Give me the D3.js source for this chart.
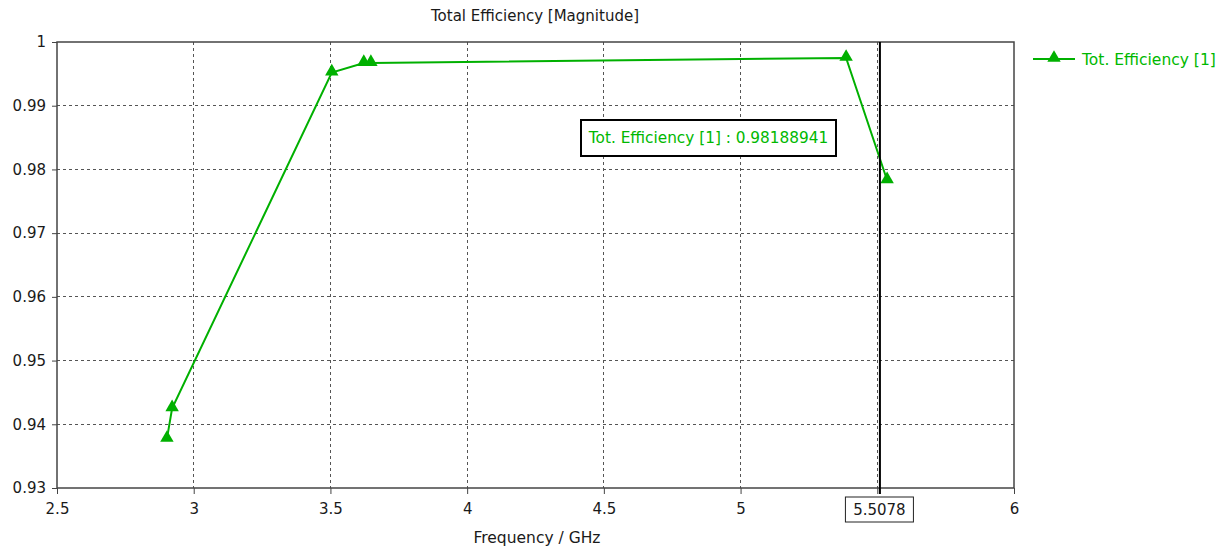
<!DOCTYPE html>
<html>
<head>
<meta charset="utf-8">
<script src="https://cdn.jsdelivr.net/npm/d3@7"></script>
<style>
  html, body { margin: 0; padding: 0; background: #fff; }
  svg { display: block; font-family: "DejaVu Sans", Verdana, sans-serif; }
</style>
</head>
<body>
<svg id="chart" width="1225" height="550"></svg>
<script>
// Total efficiency vs frequency
const frequency = [2.902, 2.921, 3.505, 3.622, 3.648, 5.386, 5.536];
const efficiency = [0.9377, 0.9425, 0.9952, 0.9967, 0.9967, 0.9975, 0.9783];
const xTicks = [2.5, 3, 3.5, 4, 4.5, 5, 5.5, 6];
const xTickLabels = ["2.5", "3", "3.5", "4", "4.5", "5", "", "6"];
const yTicks = [0.93, 0.94, 0.95, 0.96, 0.97, 0.98, 0.99, 1];
const yTickLabels = ["0.93", "0.94", "0.95", "0.96", "0.97", "0.98", "0.99", "1"];
const seriesName = "Tot. Efficiency [1]";
const markerFreq = 5.5078;
const markerValue = 0.98188941;
const markerFreqLabel = "5.5078";
const titleText = "Total Efficiency [Magnitude]";
const xAxisTitle = "Frequency / GHz";

const green = "#00b000";
const textGreen = "#00b800";
const font = "DejaVu Sans, Verdana, sans-serif";
const svg = d3.select("#chart");
const plotL = 57, plotR = 1014, plotT = 42, plotB = 488;

const x = d3.scaleLinear().domain([2.5, 6]).range([plotL, plotR]);
const y = d3.scaleLinear().domain([0.93, 1]).range([plotB, plotT]);

// dashed grid
const grid = svg.append("g").attr("stroke", "#555").attr("stroke-width", 1)
  .attr("stroke-dasharray", "3,3").attr("shape-rendering", "crispEdges");
grid.selectAll("line.v").data(xTicks.slice(1, -1)).join("line").attr("class", "v")
  .attr("x1", d => x(d)).attr("x2", d => x(d)).attr("y1", plotT).attr("y2", plotB);
grid.selectAll("line.h").data(yTicks.slice(1, -1)).join("line").attr("class", "h")
  .attr("y1", d => y(d)).attr("y2", d => y(d)).attr("x1", plotL).attr("x2", plotR);

// axes with outward ticks
const xAxis = svg.append("g").attr("transform", `translate(0,${plotB})`)
  .call(d3.axisBottom(x).tickValues(xTicks).tickSize(6).tickPadding(6)
    .tickFormat((d, i) => xTickLabels[i]));
const yAxis = svg.append("g").attr("transform", `translate(${plotL},0)`)
  .call(d3.axisLeft(y).tickValues(yTicks).tickSize(5).tickPadding(6)
    .tickFormat((d, i) => yTickLabels[i]));
[xAxis, yAxis].forEach(g => {
  g.select(".domain").remove();
  g.selectAll(".tick line").attr("stroke", "#444");
  g.selectAll(".tick text").attr("fill", "#1a1a1a").attr("font-size", 15)
    .attr("font-family", font);
});
xAxis.selectAll(".tick text").attr("dy", "0.95em");

// plot frame
svg.append("rect").attr("x", plotL).attr("y", plotT)
  .attr("width", plotR - plotL).attr("height", plotB - plotT)
  .attr("fill", "none").attr("stroke", "#444").attr("stroke-width", 1.5);

// data curve
const pts = frequency.map((f, i) => [f, efficiency[i]]);
svg.append("path").datum(pts)
  .attr("fill", "none").attr("stroke", green).attr("stroke-width", 2)
  .attr("d", d3.line().x(d => x(d[0])).y(d => y(d[1])));
const tri = d3.symbol().type(d3.symbolTriangle).size(78);
svg.selectAll("path.pt").data(pts).join("path").attr("class", "pt")
  .attr("d", tri).attr("fill", green)
  .attr("transform", d => `translate(${x(d[0])},${y(d[1]) - 1})`);

// frequency marker line
svg.append("line").attr("x1", x(markerFreq) + 0.5).attr("x2", x(markerFreq) + 0.5)
  .attr("y1", plotT).attr("y2", plotB + 6)
  .attr("stroke", "#000").attr("stroke-width", 2);

// marker frequency box on the x axis
const mb = svg.append("g").attr("transform", `translate(${x(markerFreq)},0)`);
mb.append("rect").attr("x", -34).attr("y", 497).attr("width", 68).attr("height", 25)
  .attr("fill", "#fff").attr("stroke", "#222").attr("stroke-width", 1);
mb.append("text").attr("x", 0).attr("y", 515).attr("text-anchor", "middle")
  .attr("font-size", 15).attr("fill", "#1a1a1a").text(markerFreqLabel);

// marker value annotation
svg.append("rect").attr("x", 581).attr("y", 120).attr("width", 255).attr("height", 36)
  .attr("fill", "#fff").attr("stroke", "#000").attr("stroke-width", 2);
svg.append("text").attr("x", 708.5).attr("y", 143).attr("text-anchor", "middle")
  .attr("font-size", 15.3).attr("fill", textGreen)
  .text(`${seriesName} : ${markerValue}`);

// title and axis title
svg.append("text").attr("x", 535).attr("y", 21).attr("text-anchor", "middle")
  .attr("font-size", 15).attr("fill", "#1a1a1a").text(titleText);
svg.append("text").attr("x", 537).attr("y", 543).attr("text-anchor", "middle")
  .attr("font-size", 15.5).attr("fill", "#1a1a1a").text(xAxisTitle);

// legend
const lg = svg.append("g");
lg.append("line").attr("x1", 1033).attr("x2", 1075).attr("y1", 59).attr("y2", 59)
  .attr("stroke", green).attr("stroke-width", 2);
lg.append("path").attr("d", tri).attr("fill", green)
  .attr("transform", "translate(1054,58)");
lg.append("text").attr("x", 1082).attr("y", 65).attr("font-size", 15.5)
  .attr("fill", textGreen).text(seriesName);
</script>
</body>
</html>
